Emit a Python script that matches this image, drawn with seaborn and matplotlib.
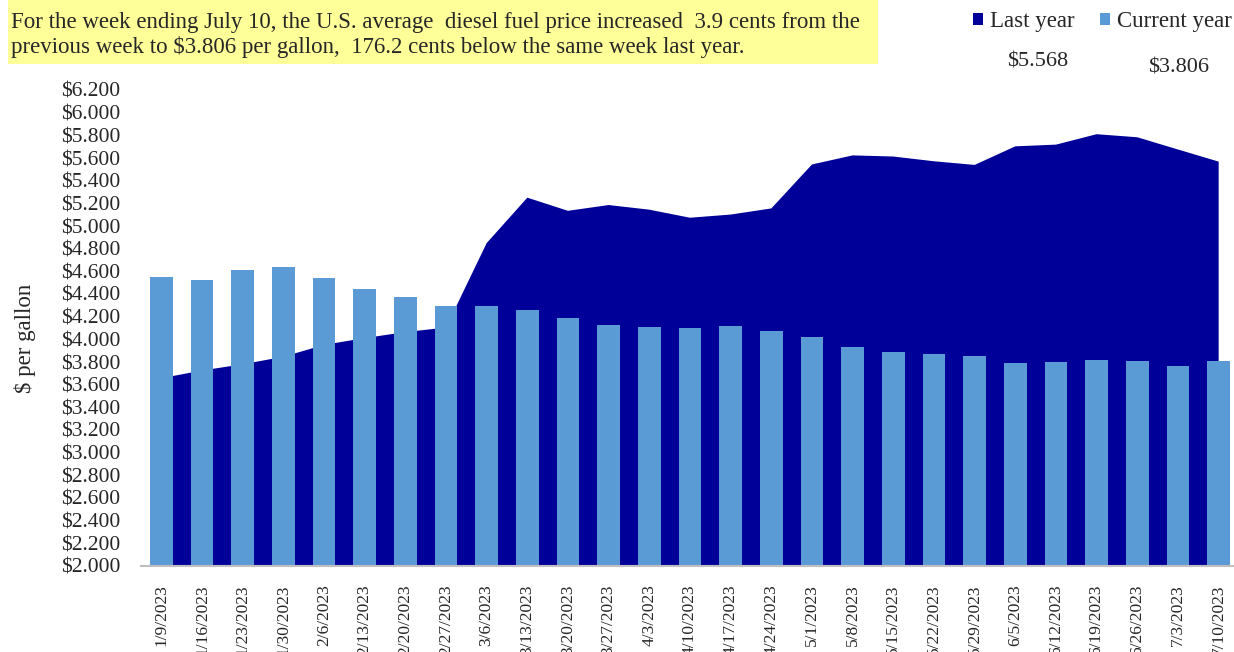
import matplotlib
matplotlib.use("Agg")
import matplotlib.pyplot as plt
from matplotlib.patches import Rectangle, Patch
import seaborn as sns
import pandas as pd

dates = ["1/9/2023", "1/16/2023", "1/23/2023", "1/30/2023", "2/6/2023", "2/13/2023",
         "2/20/2023", "2/27/2023", "3/6/2023", "3/13/2023", "3/20/2023", "3/27/2023",
         "4/3/2023", "4/10/2023", "4/17/2023", "4/24/2023", "5/1/2023", "5/8/2023",
         "5/15/2023", "5/22/2023", "5/29/2023", "6/5/2023", "6/12/2023", "6/19/2023",
         "6/26/2023", "7/3/2023", "7/10/2023"]
current_year = [4.553, 4.525, 4.611, 4.638, 4.541, 4.445, 4.376, 4.294, 4.295, 4.259,
                4.185, 4.128, 4.105, 4.098, 4.116, 4.077, 4.018, 3.928, 3.891, 3.873,
                3.849, 3.795, 3.802, 3.817, 3.805, 3.767, 3.806]
last_year = [3.657, 3.725, 3.780, 3.846, 3.951, 4.011, 4.064, 4.104, 4.849, 5.250,
             5.134, 5.185, 5.144, 5.073, 5.101, 5.155, 5.543, 5.623, 5.613, 5.571,
             5.539, 5.703, 5.718, 5.810, 5.783, 5.675, 5.568]
y_ticks = [2.0 + 0.2 * i for i in range(22)]
headline = ("For the week ending July 10, the U.S. average  diesel fuel price increased  3.9 cents from the\n"
            "previous week to $3.806 per gallon,  176.2 cents below the same week last year.")
series_names = ["Last year", "Current year"]
latest_values = ["$5.568", "$3.806"]

DARK = "#000099"
LIGHT = "#5B9BD5"
SERIF = ["Liberation Serif", "DejaVu Serif"]

sns.set_theme(style="white")
plt.rcParams["font.family"] = SERIF

df = pd.DataFrame({"date": dates, "current": current_year, "last": last_year})

W, H = 1234, 652
fig = plt.figure(figsize=(W / 100, H / 100), dpi=100)
ax = fig.add_axes([141 / W, 86 / H, 1098 / W, 476 / H])

ax.fill_between(range(len(dates)), df["last"], 0, color=DARK, linewidth=0, zorder=1)
sns.barplot(data=df, x="date", y="current", color=LIGHT, width=0.55, saturation=1,
            ax=ax, zorder=2, linewidth=0)

ax.set_xlim(-0.5, len(dates) - 0.5)
ax.set_ylim(2.0, 6.2)
ax.set_yticks(y_ticks)
ax.set_yticklabels([f"${v:.3f}" for v in y_ticks], fontsize=15.5)
ax.tick_params(axis="x", labelrotation=90, labelsize=12.5, length=0, pad=13)
ax.tick_params(axis="y", length=0, pad=15)
ax.set_xlabel("")
ax.set_ylabel("")
for s in ["top", "right", "left"]:
    ax.spines[s].set_visible(False)
ax.spines["bottom"].set_color("#BFBFBF")
ax.spines["bottom"].set_linewidth(1.5)
ax.spines["bottom"].set_zorder(3)

fig.text(25 / W, 1 - 338 / H, "$ per gallon", rotation=90, fontsize=16.5,
         ha="center", va="center")

# headline box
fig.patches.append(Rectangle((8 / W, (H - 64) / H), 870 / W, 64 / H,
                             transform=fig.transFigure, facecolor="#FFFF99",
                             edgecolor="none", zorder=0))
fig.text(11 / W, 1 - 35 / H, headline, fontsize=16.5, va="center", ha="left",
         linespacing=1.2)

# legend
handles = [Patch(facecolor=DARK, edgecolor="none"), Patch(facecolor=LIGHT, edgecolor="none")]
fig.legend(handles, series_names, loc="center right", bbox_to_anchor=(1.0, 1 - 22 / H),
           ncol=2, frameon=False, fontsize=16.5, handlelength=0.45, handleheight=0.45,
           handletextpad=0.3, columnspacing=1.1, borderaxespad=0.0, borderpad=0.1)
fig.text(1038 / W, 1 - 62 / H, latest_values[0], fontsize=16, ha="center", va="center")
fig.text(1179 / W, 1 - 68 / H, latest_values[1], fontsize=16, ha="center", va="center")

fig.savefig("out.png", dpi=100)
